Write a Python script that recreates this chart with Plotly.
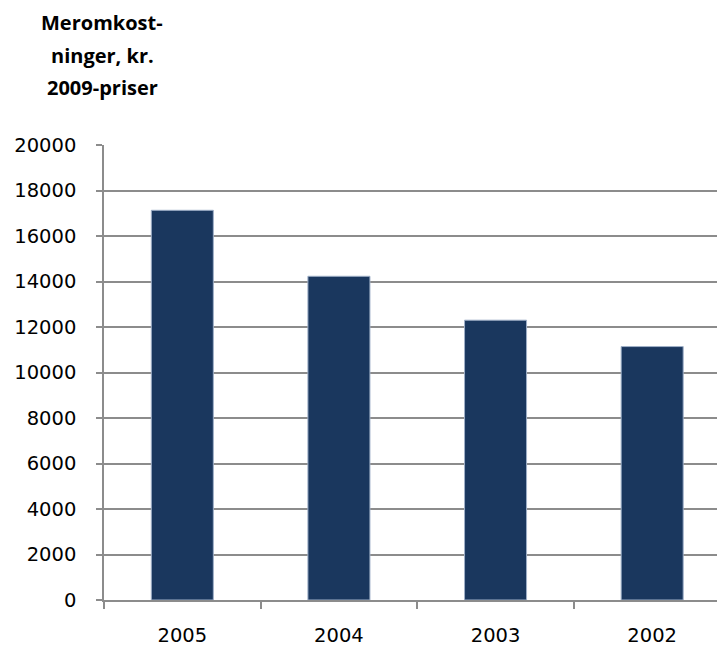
import plotly.graph_objects as go

years = ["2005", "2004", "2003", "2002"]
costs = [17130, 14230, 12300, 11140]
y_ticks = [0, 2000, 4000, 6000, 8000, 10000, 12000, 14000, 16000, 18000, 20000]
title_lines = ["Meromkost-", "ninger, kr.", "2009-priser"]

FONT = "DejaVu Sans"
TFONT = "Open Sans"
FS = 19.5
OFF = 8  # page body margin
W, H = 725 - OFF, 655 - OFF
L, R, T, B = 104 - OFF, 0, 145 - OFF, 55
ph = H - T - B

fig = go.Figure(go.Bar(
    x=years, y=costs,
    marker=dict(color="#1a375e", line=dict(color="#9fb0c8", width=1)),
))

fig.update_layout(
    width=W, height=H,
    margin=dict(l=L, r=R, t=T, b=B, pad=0),
    paper_bgcolor="white", plot_bgcolor="white",
    bargap=0.604,
    showlegend=False,
    font=dict(family=FONT, size=FS, color="#000000"),
)

fig.update_xaxes(
    type="category",
    range=[-0.5, 3.465],
    showline=True, linecolor="#8c8c8c", linewidth=1.5,
    ticks="outside", tickson="boundaries", ticklen=7, tickcolor="#8c8c8c", tickwidth=1.5,
    ticklabelstandoff=17,
    showgrid=False,
    tickfont=dict(family=FONT, size=FS),
)
fig.update_yaxes(
    range=[0, 20000],
    tickvals=y_ticks, ticktext=[str(v) for v in y_ticks],
    showline=True, linecolor="#8c8c8c", linewidth=1.5,
    ticks="outside", ticklen=6, tickcolor="#8c8c8c", tickwidth=1.5,
    showgrid=True, gridcolor="#8c8c8c", gridwidth=1.5,
    zeroline=False,
    ticklabelstandoff=16,
    tickfont=dict(family=FONT, size=FS),
)

centers = [22, 55, 87]
for txt, cy in zip(title_lines, centers):
    fig.add_annotation(
        text="<b>" + txt + "</b>",
        xref="paper", yref="paper",
        x=(102 - 104) / (W - L - R), y=(655 - B - cy) / ph,
        xanchor="center", yanchor="middle",
        showarrow=False,
        font=dict(family=TFONT, size=20, color="#000000"),
    )

fig.write_html("out.html")
